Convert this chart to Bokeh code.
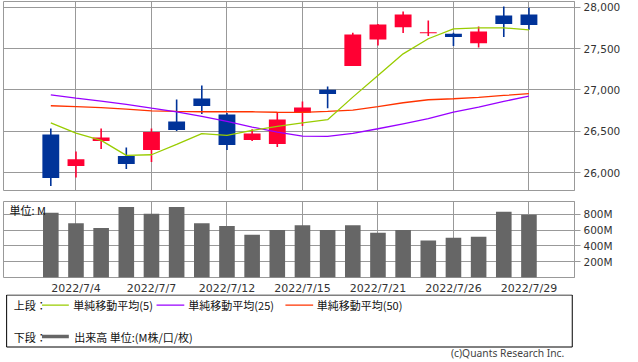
from bokeh.plotting import figure
from bokeh.layouts import column
from bokeh.models import Range1d, FixedTicker, NumeralTickFormatter, PrintfTickFormatter, ColumnDataSource
from bokeh.core.properties import value
from bokeh.embed import file_html
from bokeh.resources import INLINE

# ---------------- data ----------------
dates = ["7/1", "7/4", "7/5", "7/6", "7/7", "7/8", "7/11", "7/12", "7/13", "7/14",
         "7/15", "7/19", "7/20", "7/21", "7/22", "7/25", "7/26", "7/27", "7/28", "7/29"]
opens = [26462, 26080, 26382, 26201, 26273, 26619, 26897, 26704, 26394, 26346,
         26724, 27002, 27288, 27610, 27758, 27683, 27678, 27565, 27899, 27911]
highs = [26535, 26257, 26535, 26305, 26535, 26885, 27054, 26720, 26525, 26720,
         26861, 27042, 27690, 27795, 27948, 27839, 27690, 27767, 28008, 27992]
lows = [25839, 25943, 26285, 26044, 26128, 26503, 26708, 26273, 26382, 26310,
        26563, 26780, 27288, 27537, 27686, 27650, 27529, 27513, 27638, 27726]
closes = [25936, 26161, 26426, 26104, 26491, 26515, 26805, 26334, 26475, 26644,
          26788, 26950, 27670, 27791, 27911, 27697, 27638, 27706, 27795, 27783]
volumes = [820, 687, 626, 893, 808, 893, 687, 651, 541, 602,
           663, 602, 663, 566, 602, 469, 505, 517, 832, 796]
ma5 = [26603, 26479, 26390, 26209, 26217, 26342, 26471, 26450, 26511, 26559,
       26603, 26640, 26913, 27175, 27436, 27618, 27738, 27750, 27750, 27726]
ma25 = [26941, 26901, 26865, 26825, 26780, 26736, 26680, 26620, 26551, 26491,
        26442, 26438, 26475, 26531, 26591, 26652, 26732, 26793, 26861, 26925]
ma50 = [26809, 26797, 26785, 26768, 26748, 26740, 26736, 26736, 26736, 26730,
        26728, 26740, 26756, 26797, 26845, 26881, 26893, 26909, 26933, 26954]
date_ticks = [1, 4, 7, 10, 13, 16, 19]
price_ticks = [26000, 26500, 27000, 27500, 28000]
volume_ticks = [200, 400, 600, 800]

legend_labels = ["単純移動平均(5)", "単純移動平均(25)", "単純移動平均(50)"]
volume_label = "出来高 単位:(M株/口/枚)"

# ---------------- styles ----------------
UP = "#FF0033"
DOWN = "#003399"
GRID = "#999999"
JP = value("Noto Sans CJK JP")

n = len(dates)
xs = list(range(n))
colors = [UP if c >= o else DOWN for o, c in zip(opens, closes)]
src = ColumnDataSource(dict(
    x=xs, o=opens, h=highs, l=lows, c=closes,
    top=[max(o, c) for o, c in zip(opens, closes)],
    bot=[min(o, c) for o, c in zip(opens, closes)],
    color=colors, vol=volumes, ma5=ma5, ma25=ma25, ma50=ma50,
))

x_range = Range1d(-1.88, 20.81)


def style_panel(f):
    f.background_fill_color = "white"
    f.border_fill_color = "white"
    f.outline_line_color = GRID
    f.outline_line_width = 1
    f.xgrid.ticker = FixedTicker(ticks=date_ticks)
    f.grid.grid_line_color = GRID
    f.grid.grid_line_width = 1
    ax = f.yaxis[0]
    ax.axis_line_color = GRID
    ax.major_tick_line_color = GRID
    ax.major_tick_out = 6
    ax.major_tick_in = 0
    ax.minor_tick_line_color = None
    ax.major_label_standoff = 3
    ax.major_label_text_font = "DejaVu Sans"
    ax.major_label_text_font_size = "10.5px"
    ax.major_label_text_color = "#333333"


# ---------------- price panel ----------------
p = figure(width=638, height=200, x_range=x_range, y_range=Range1d(25785, 28068),
           output_backend="svg", toolbar_location=None,
           y_axis_location="right", x_axis_location=None,
           min_border_left=3, min_border_right=64, min_border_top=1, min_border_bottom=10)
style_panel(p)
p.yaxis.ticker = FixedTicker(ticks=price_ticks)
p.ygrid.ticker = FixedTicker(ticks=price_ticks)
p.yaxis.formatter = NumeralTickFormatter(format="0,0")

p.segment(x0="x", y0="h", x1="x", y1="l", line_color="color", line_width=1.6, source=src)
p.vbar(x="x", width=0.67, top="top", bottom="bot", fill_color="color", line_color=None, source=src)
p.line("x", "ma50", line_color="#FF3300", line_width=1.3, source=src)
p.line("x", "ma25", line_color="#9900FF", line_width=1.3, source=src)
p.line("x", "ma5", line_color="#99CC00", line_width=1.3, source=src)

# ---------------- volume panel ----------------
v = figure(width=638, height=97, x_range=x_range, y_range=Range1d(0, 963),
           output_backend="svg", toolbar_location=None,
           y_axis_location="right",
           min_border_left=3, min_border_right=64, min_border_top=1, min_border_bottom=17)
style_panel(v)
v.yaxis.ticker = FixedTicker(ticks=volume_ticks)
v.ygrid.ticker = FixedTicker(ticks=volume_ticks)
v.yaxis.formatter = PrintfTickFormatter(format="%dM")
xa = v.xaxis[0]
xa.ticker = FixedTicker(ticks=date_ticks)
xa.major_label_overrides = {i: "2022/" + dates[i] for i in date_ticks}
xa.axis_line_color = None
xa.major_tick_line_color = None
xa.minor_tick_line_color = None
xa.major_tick_out = 0
xa.major_tick_in = 0
xa.major_label_standoff = 4
xa.major_label_text_font = "DejaVu Sans"
xa.major_label_text_font_size = "11px"
xa.major_label_text_color = "#333333"

v.vbar(x="x", width=0.62, top="vol", bottom=0, fill_color="#666666", line_color=None, source=src)
v.text(x=[x_range.start + 0.24], y=[853], text=["単位: M"], text_font=JP,
       text_font_size="11px", text_baseline="middle", text_align="left", text_color="#111111")

# ---------------- legend panel ----------------
H = 68
lg = figure(width=638, height=H, x_range=Range1d(0, 638), y_range=Range1d(H, 0),
            output_backend="svg", toolbar_location=None,
            x_axis_location=None, y_axis_location=None,
            min_border_left=0, min_border_right=0, min_border_top=0, min_border_bottom=0,
            margin=(-3, 0, 0, 0))
lg.grid.visible = False
lg.outline_line_color = None
lg.background_fill_alpha = 0
lg.border_fill_alpha = 0

lg.quad(left=[3.5], right=[635.5], top=[0.5], bottom=[52.5], fill_color=None,
        line_color="black", line_width=1)
r1, r2 = 10.7, 42
lg.segment(x0=[43, 171, 315], y0=[r1] * 3, x1=[73, 202, 346], y1=[r1] * 3,
           line_color=["#99CC00", "#9900FF", "#FF3300"], line_width=1.2)
lg.segment(x0=[43], y0=[r2], x1=[73], y1=[r2], line_color="#666666", line_width=3.5)
lg.text(x=[11.5, 78, 206.5, 350, 11.5, 79], y=[r1, r1, r1, r1, r2, r2],
        text=["上段："] + legend_labels + ["下段：", volume_label],
        text_font=JP, text_font_size="11px", text_baseline="middle",
        text_align="left", text_color="#111111")
lg.text(x=[500], y=[58.5], text=["(c)Quants Research Inc."], text_font=value("Noto Sans"),
        text_font_size="10.3px", text_baseline="middle", text_align="left", text_color="#444444")

layout = column(p, v, lg)

open("out.html", "w").write(file_html(layout, INLINE))
